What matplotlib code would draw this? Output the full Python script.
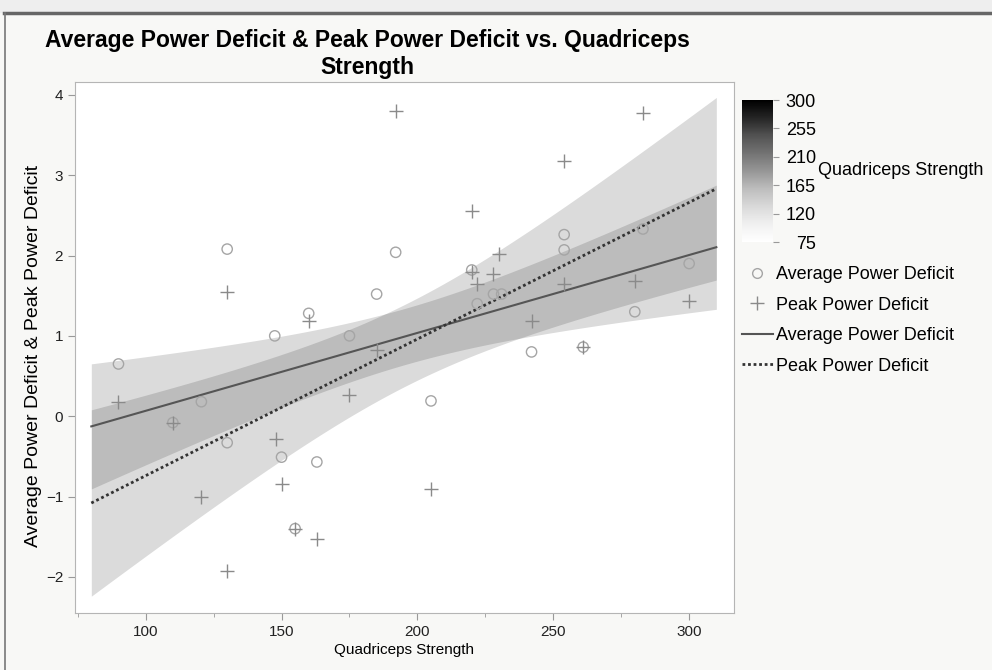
# Average / peak power deficit vs quadriceps strength, with linear fits
# and 95% confidence bands (JMP style, grayscale)

import numpy as np
import matplotlib as mpl
import matplotlib.pyplot as plt
from matplotlib.lines import Line2D
from matplotlib.patches import Rectangle
from matplotlib.ticker import MultipleLocator

plt.rcParams['font.family'] = ['Liberation Sans', 'DejaVu Sans']

# values
avg_x = [90, 110, 120.5, 130, 130, 147.5, 150, 155, 160, 163, 175, 185, 192,
         205, 220, 222, 228, 231, 242, 254, 254, 261, 280, 283, 300]
avg_y = [0.65, -0.08, 0.18, 2.08, -0.33, 1.0, -0.51, -1.40, 1.28, -0.57, 1.0,
         1.52, 2.04, 0.19, 1.82, 1.40, 1.52, 1.52, 0.80, 2.26, 2.07, 0.86,
         1.30, 2.33, 1.90]

peak_x = [90, 110, 120.5, 130, 130, 148, 150, 155, 160, 163, 175, 185, 192,
          205, 220, 220, 222, 228, 230, 242, 254, 254, 261, 280, 283, 300]
peak_y = [0.18, -0.08, -1.0, 1.55, -1.93, -0.28, -0.84, -1.40, 1.18, -1.53,
          0.26, 0.82, 3.80, -0.91, 2.55, 1.80, 1.65, 1.77, 2.02, 1.19, 3.18,
          1.65, 0.86, 1.68, 3.78, 1.44]

fit_range = [80, 310]
x_ticks = [100, 150, 200, 250, 300]
y_ticks = [-2, -1, 0, 1, 2, 3, 4]
cbar_ticks = [75, 120, 165, 210, 255, 300]


def fit_band(x, y, xs, t_crit=2.07):
    # least squares line and 95% confidence band of the fit
    x = np.asarray(x, float)
    y = np.asarray(y, float)
    b, a = np.polyfit(x, y, 1)
    n = len(x)
    s = np.sqrt(np.sum((y - (a + b * x)) ** 2) / (n - 2))
    sxx = np.sum((x - x.mean()) ** 2)
    yhat = a + b * xs
    half = t_crit * s * np.sqrt(1 / n + (xs - x.mean()) ** 2 / sxx)
    return yhat, yhat - half, yhat + half


fig = plt.figure(figsize=(9.92, 6.70), dpi=100)
fig.patch.set_facecolor('#f8f8f6')

# window frame
fig.add_artist(Rectangle((0, 1 - 12 / 670), 1, 12 / 670, transform=fig.transFigure,
                         color='#eeeeee', zorder=0))
fig.add_artist(Line2D([4 / 992, 1], [1 - 13 / 670] * 2, transform=fig.transFigure,
                      color='#666666', lw=2.5))
fig.add_artist(Line2D([5 / 992] * 2, [0, 1 - 13 / 670], transform=fig.transFigure,
                      color='#777777', lw=1.2))

ax = fig.add_axes([75 / 992, 1 - 613 / 670, 659 / 992, 531 / 670])
ax.set_facecolor('white')

xs = np.linspace(fit_range[0], fit_range[1], 200)
avg_fit, avg_lo, avg_hi = fit_band(avg_x, avg_y, xs)
peak_fit, peak_lo, peak_hi = fit_band(peak_x, peak_y, xs)

ax.fill_between(xs, peak_lo, peak_hi, color='black', alpha=0.14, lw=0)
ax.fill_between(xs, avg_lo, avg_hi, color='black', alpha=0.14, lw=0)
ax.plot(xs, avg_fit, color='#555555', lw=1.5)
ax.plot(xs, peak_fit, color='#333333', lw=2, ls=(0, (1, 1)))

ax.scatter(avg_x, avg_y, s=55, facecolors='none', edgecolors='#a5a5a5', lw=1, zorder=3)
ax.scatter(peak_x, peak_y, s=110, marker='+', color='#8a8a8a', lw=1, zorder=3)

ax.set_xlim(74, 316.5)
ax.set_ylim(-2.45, 4.16)
ax.set_xticks(x_ticks)
ax.set_yticks(y_ticks)
ax.xaxis.set_minor_locator(MultipleLocator(25))
for sp in ax.spines.values():
    sp.set_color('#b5b5b5')
ax.tick_params(which='major', length=5, color='#999999', labelsize=11, labelcolor='#222222')
ax.tick_params(which='minor', length=3, color='#999999')
ax.set_xlabel('Quadriceps Strength', fontsize=11, labelpad=3)
ax.set_ylabel('Average Power Deficit & Peak Power Deficit', fontsize=14)
ax.yaxis.set_label_coords(-0.05, 0.485)

fig.text(367 / 992, 1 - 29 / 670,
         'Average Power Deficit & Peak Power Deficit vs. Quadriceps\nStrength',
         ha='center', va='top', fontsize=16.5, fontweight='bold', linespacing=1.2)

# gray scale legend for quadriceps strength
cax = fig.add_axes([742 / 992, 1 - 242 / 670, 31 / 992, 142 / 670])
sm = mpl.cm.ScalarMappable(norm=mpl.colors.Normalize(75, 300), cmap='Greys')
cb = fig.colorbar(sm, cax=cax)
cb.outline.set_visible(False)
cb.set_ticks(cbar_ticks)
cax.tick_params(labelsize=13, length=4, color='#999999', pad=27)
for t in cax.get_yticklabels():
    t.set_ha('right')
fig.text(818 / 992, 1 - 170 / 670, 'Quadriceps Strength', va='center', fontsize=13)

handles = [
    Line2D([], [], ls='none', marker='o', mfc='none', mec='#a5a5a5', ms=7),
    Line2D([], [], ls='none', marker='+', mec='#8a8a8a', ms=10),
    Line2D([], [], color='#555555', lw=1.5),
    Line2D([], [], color='#333333', lw=2, ls=(0, (1, 1))),
]
labels = ['Average Power Deficit', 'Peak Power Deficit',
          'Average Power Deficit', 'Peak Power Deficit']
fig.legend(handles, labels, loc='upper left', bbox_to_anchor=(742 / 992, 1 - 266 / 670),
           frameon=False, fontsize=13, handlelength=1.7, handletextpad=0.2,
           labelspacing=0.75, borderaxespad=0, borderpad=0)

fig.savefig('out.png', dpi=100, facecolor=fig.get_facecolor())
